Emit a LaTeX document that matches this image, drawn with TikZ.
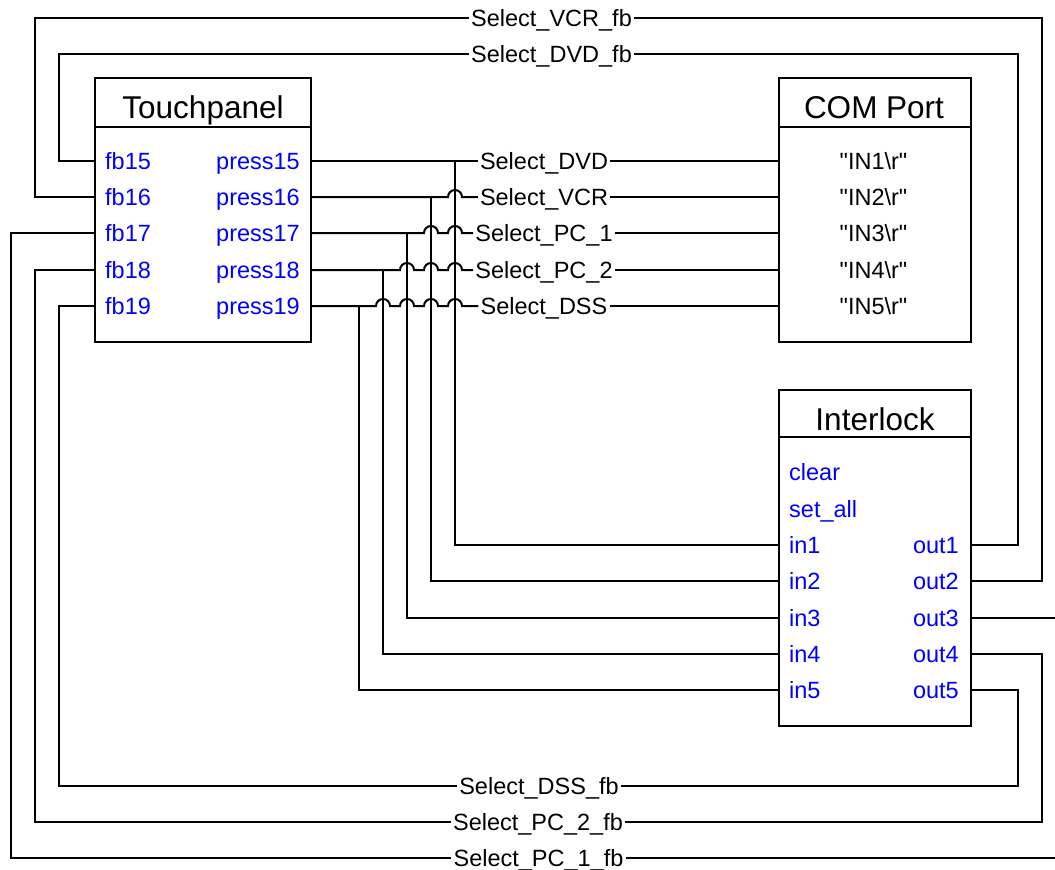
\documentclass[tikz,border=0pt]{standalone}
\usepackage{fontspec}
\setmainfont{Liberation Sans}
\definecolor{portblue}{RGB}{0,0,255}
\tikzset{
  wire/.style={line width=2pt, line join=miter},
  box/.style={draw, line width=2pt, rectangle, inner sep=0pt},
  ttl/.style={font=\fontsize{31.5}{36}\selectfont, inner sep=0pt, anchor=base},
  port/.style={font=\fontsize{23.5}{28}\selectfont, text=portblue, inner sep=0pt},
  sig/.style={font=\fontsize{23.5}{28}\selectfont, inner sep=2pt, anchor=base},
  comtxt/.style={font=\fontsize{23.5}{28}\selectfont, inner sep=0pt, anchor=base},
}
\begin{document}
\begin{tikzpicture}[x=1pt,y=-1pt]
\useasboundingbox (0,0) rectangle (1055,870);
% ---- boxes
\node[box, minimum width=216pt, minimum height=264pt] (tp) at (203,210) {};
\node[ttl] (tpt) at (203,118) {Touchpanel};
\draw[line width=2pt] (tp.west |- 0,127) -- (tp.east |- 0,127);
\node[box, minimum width=192pt, minimum height=264pt] (com) at (875,210) {};
\node[ttl] (comt) at (874,118) {COM Port};
\draw[line width=2pt] (com.west |- 0,127) -- (com.east |- 0,127);
\node[box, minimum width=192pt, minimum height=336pt] (il) at (875,558) {};
\node[ttl] (ilt) at (875,430) {Interlock};
\draw[line width=2pt] (il.west |- 0,437) -- (il.east |- 0,437);
% ---- touchpanel ports
\node[port, anchor=base west] (fb15) at (105,169) {fb15};
\node[port, anchor=base west] (fb16) at (105,205) {fb16};
\node[port, anchor=base west] (fb17) at (105,241.5) {fb17};
\node[port, anchor=base west] (fb18) at (105,278) {fb18};
\node[port, anchor=base west] (fb19) at (105,314) {fb19};
\node[port, anchor=base east] (p15) at (300,169) {press15};
\node[port, anchor=base east] (p16) at (300,205) {press16};
\node[port, anchor=base east] (p17) at (300,241.5) {press17};
\node[port, anchor=base east] (p18) at (300,278) {press18};
\node[port, anchor=base east] (p19) at (300,314) {press19};
% ---- com port strings
\node[comtxt] (c1) at (873.5,169) {\textquotedbl IN1\textbackslash r\textquotedbl};
\node[comtxt] (c2) at (873.5,205) {\textquotedbl IN2\textbackslash r\textquotedbl};
\node[comtxt] (c3) at (873.5,241.5) {\textquotedbl IN3\textbackslash r\textquotedbl};
\node[comtxt] (c4) at (873.5,278) {\textquotedbl IN4\textbackslash r\textquotedbl};
\node[comtxt] (c5) at (873.5,314) {\textquotedbl IN5\textbackslash r\textquotedbl};
% ---- interlock ports
\node[port, anchor=base west] (clr) at (789,480.75) {clear};
\node[port, anchor=base west] (sal) at (789,517) {set\_all};
\node[port, anchor=base west] (in1) at (789,553) {in1};
\node[port, anchor=base west] (in2) at (789,589) {in2};
\node[port, anchor=base west] (in3) at (789,626) {in3};
\node[port, anchor=base west] (in4) at (789,662) {in4};
\node[port, anchor=base west] (in5) at (789,698) {in5};
\node[port, anchor=base east] (o1) at (959,553) {out1};
\node[port, anchor=base east] (o2) at (959,589) {out2};
\node[port, anchor=base east] (o3) at (959,626) {out3};
\node[port, anchor=base east] (o4) at (959,662) {out4};
\node[port, anchor=base east] (o5) at (959,698) {out5};
% ---- signal labels
\node[sig] (sdvd) at (544,169) {Select\_DVD};
\node[sig] (svcr) at (544,205) {Select\_VCR};
\node[sig] (spc1) at (544,241.5) {Select\_PC\_1};
\node[sig] (spc2) at (544,278) {Select\_PC\_2};
\node[sig] (sdss) at (544,314) {Select\_DSS};
\node[sig] (fvcr) at (551.5,26) {Select\_VCR\_fb};
\node[sig] (fdvd) at (551.5,62) {Select\_DVD\_fb};
\node[sig] (fdss) at (539,794) {Select\_DSS\_fb};
\node[sig] (fpc2) at (538,830) {Select\_PC\_2\_fb};
\node[sig] (fpc1) at (538.5,866) {Select\_PC\_1\_fb};
% ---- press wires with hops
\draw[wire] (tp.east |- 0,161) -- (sdvd.west |- 0,161);
\draw[wire] (455,161) -- (455,545) -- (il.west |- 0,545);
\draw[wire] (sdvd.east |- 0,161) -- (com.west |- 0,161);

\draw[wire] (tp.east |- 0,197) -- (448,197) arc[start angle=180,end angle=0,radius=7pt] -- (svcr.west |- 0,197);
\draw[wire] (431,197) -- (431,581) -- (il.west |- 0,581);
\draw[wire] (svcr.east |- 0,197) -- (com.west |- 0,197);

\draw[wire] (tp.east |- 0,233) -- (424,233) arc[start angle=180,end angle=0,radius=7pt] -- (448,233) arc[start angle=180,end angle=0,radius=7pt] -- (spc1.west |- 0,233);
\draw[wire] (407,233) -- (407,618) -- (il.west |- 0,618);
\draw[wire] (spc1.east |- 0,233) -- (com.west |- 0,233);

\draw[wire] (tp.east |- 0,270) -- (400,270) arc[start angle=180,end angle=0,radius=7pt] -- (424,270) arc[start angle=180,end angle=0,radius=7pt] -- (448,270) arc[start angle=180,end angle=0,radius=7pt] -- (spc2.west |- 0,270);
\draw[wire] (383,270) -- (383,654) -- (il.west |- 0,654);
\draw[wire] (spc2.east |- 0,270) -- (com.west |- 0,270);

\draw[wire] (tp.east |- 0,306) -- (376,306) arc[start angle=180,end angle=0,radius=7pt] -- (400,306) arc[start angle=180,end angle=0,radius=7pt] -- (424,306) arc[start angle=180,end angle=0,radius=7pt] -- (448,306) arc[start angle=180,end angle=0,radius=7pt] -- (sdss.west |- 0,306);
\draw[wire] (359,306) -- (359,690) -- (il.west |- 0,690);
\draw[wire] (sdss.east |- 0,306) -- (com.west |- 0,306);
% ---- feedback wires
\draw[wire] (tp.west |- 0,161) -- (59,161) -- (59,54) -- (fdvd.west |- 0,54);
\draw[wire] (fdvd.east |- 0,54) -- (1018,54) -- (1018,545) -- (il.east |- 0,545);
\draw[wire] (tp.west |- 0,197) -- (35,197) -- (35,18) -- (fvcr.west |- 0,18);
\draw[wire] (fvcr.east |- 0,18) -- (1042,18) -- (1042,581) -- (il.east |- 0,581);
\draw[wire] (tp.west |- 0,233) -- (11,233) -- (11,858) -- (fpc1.west |- 0,858);
\draw[wire] (fpc1.east |- 0,858) -- (1056,858);
\draw[wire] (il.east |- 0,618) -- (1056,618);
\draw[wire] (tp.west |- 0,270) -- (35,270) -- (35,822) -- (fpc2.west |- 0,822);
\draw[wire] (fpc2.east |- 0,822) -- (1042,822) -- (1042,654) -- (il.east |- 0,654);
\draw[wire] (tp.west |- 0,306) -- (59,306) -- (59,786) -- (fdss.west |- 0,786);
\draw[wire] (fdss.east |- 0,786) -- (1018,786) -- (1018,690) -- (il.east |- 0,690);
\end{tikzpicture}
\end{document}
